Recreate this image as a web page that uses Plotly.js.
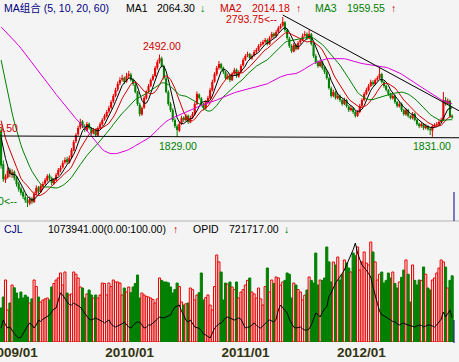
<!DOCTYPE html>
<html><head><meta charset="utf-8">
<script src="https://cdn.plot.ly/plotly-3.0.1.min.js"></script>
<style>html,body{margin:0;padding:0;background:#f4f4f4;}#chart{width:459px;height:362px;}</style>
</head><body><div id="chart"></div>
<script>
// ---- data (weekly bars) ----
const histClose = [2580,2600,2620,2590,2640,2660,2630,2680,2650,2700,2660,2690,2720,
2750,2780,2800,2770,2820,2850,2830,2880,2900,2870,2920,2950,2930,2980,
3000,2960,2990,3020,2980,2950,2990,3010,2970,
3050,3120,3180,3230,3260,3300,3250,3200,3150,
2950,2780,2620,2480,2350,2260,2150,
2080,2020,1980,1940,1900,1860,1820];

const open = [1880,1610,1485,1505,1565,1525,1550,1505,1455,1415,
1385,1345,1320,1295,1335,1305,1375,1425,1385,1430,
1455,1480,1520,1500,1455,1480,1525,1560,1585,1625,
1650,1625,1665,1720,1795,1850,1905,1955,1915,1880,
1935,1900,1855,1890,1840,1905,1930,1970,1995,2035,
2065,2115,2160,2210,2260,2290,2305,2275,2320,2330,
2290,2250,2190,2090,2010,2065,2140,2195,2240,2290,
2320,2385,2435,2460,2395,2300,2190,2095,2045,1965,
1915,1880,1935,1985,1965,2000,1945,1985,2015,2095,
2170,2140,2095,2060,2115,2140,2205,2275,2335,2385,
2415,2385,2350,2300,2320,2285,2340,2370,2315,2355,
2405,2450,2485,2495,2460,2485,2515,2530,2565,2575,
2595,2610,2575,2630,2660,2640,2675,2705,2725,2750,
2690,2620,2560,2515,2570,2535,2590,2610,2645,2655,
2620,2655,2575,2480,2430,2400,2430,2385,2350,2300,
2220,2160,2190,2140,2160,2125,2095,2125,2075,2045,
2060,2030,2000,2030,2080,2125,2175,2205,2240,2270,
2255,2290,2305,2335,2270,2240,2205,2175,2140,2160,
2110,2075,2095,2045,2010,2045,1995,1980,2015,1965,
1935,1915,1935,1900,1915,1895,1880,1915,1925,1930,
1950,1965,2125,2095,2120,1995];

const high = [1898.5,1640,1530,1585,1580,1570,1560,1515,1470,1430,
1400,1370,1345,1350,1345,1390,1440,1435,1450,1470,
1500,1530,1535,1510,1500,1540,1580,1600,1640,1665,
1670,1680,1740,1805,1860,1920,1975,1965,1930,1950,
1945,1910,1900,1895,1915,1950,1980,2015,2045,2080,
2125,2175,2225,2275,2310,2330,2315,2345,2360,2345,
2300,2265,2200,2105,2075,2160,2205,2255,2300,2335,
2400,2450,2492,2475,2410,2315,2205,2110,2060,1980,
1930,1950,2000,1995,2015,2010,2000,2030,2110,2195,
2180,2150,2105,2125,2160,2225,2290,2350,2400,2440,
2425,2395,2360,2340,2330,2350,2385,2380,2365,2415,
2465,2495,2515,2505,2495,2530,2545,2575,2595,2610,
2625,2620,2640,2675,2670,2690,2720,2740,2793.75,2760,
2700,2635,2575,2585,2580,2600,2625,2660,2680,2670,
2689,2665,2590,2495,2445,2450,2440,2395,2365,2310,
2235,2210,2200,2180,2170,2135,2145,2135,2085,2080,
2070,2040,2045,2095,2140,2190,2225,2255,2290,2285,
2300,2320,2384,2345,2280,2250,2215,2185,2175,2170,
2120,2110,2105,2055,2060,2055,2005,2030,2025,1975,
1945,1950,1940,1935,1925,1905,1925,1940,1950,1965,
1985,2191,2150,2140,2130,2010];

const low = [1575,1470,1460,1495,1505,1500,1480,1430,1390,1360,
1330,1300,1266,1280,1290,1300,1360,1370,1380,1410,
1440,1470,1480,1440,1445,1475,1515,1545,1575,1610,
1610,1615,1655,1715,1780,1840,1890,1900,1870,1875,
1890,1840,1850,1830,1835,1895,1920,1960,1985,2020,
2055,2100,2150,2195,2245,2275,2255,2265,2300,2275,
2240,2180,2080,1995,2000,2055,2130,2185,2230,2280,
2310,2370,2420,2390,2290,2180,2080,2030,1950,1900,
1829,1870,1925,1950,1955,1935,1940,1975,2005,2085,
2130,2080,2045,2050,2100,2130,2195,2265,2320,2370,
2370,2335,2290,2290,2270,2280,2330,2305,2305,2345,
2395,2440,2470,2450,2450,2475,2500,2520,2550,2565,
2580,2565,2570,2615,2625,2630,2665,2695,2715,2675,
2610,2545,2505,2510,2525,2530,2575,2600,2635,2610,
2615,2565,2465,2415,2385,2390,2370,2335,2290,2210,
2145,2150,2130,2130,2110,2080,2085,2065,2030,2035,
2015,1985,1990,2020,2070,2115,2165,2195,2230,2240,
2245,2280,2295,2260,2225,2195,2160,2130,2130,2095,
2065,2065,2030,2000,2000,1985,1970,1970,1955,1920,
1900,1905,1885,1890,1880,1845,1831,1905,1915,1920,
1940,1960,2080,2085,1985,1975];

const close = [1600,1490,1510,1560,1530,1545,1500,1450,1410,1380,
1350,1320,1300,1330,1310,1370,1420,1390,1435,1451,
1483,1515,1499,1459,1483,1523,1564,1580,1620,1644,
1628,1660,1724,1789,1845,1901,1950,1917,1885,1933,
1901,1861,1885,1845,1901,1933,1966,1998,2030,2062,
2110,2159,2207,2255,2287,2303,2271,2319,2335,2287,
2255,2191,2094,2014,2062,2143,2191,2239,2287,2319,
2384,2432,2464,2400,2303,2191,2094,2046,1966,1917,
1885,1933,1982,1966,1998,1950,1982,2014,2094,2175,
2143,2094,2062,2110,2143,2207,2271,2335,2384,2416,
2384,2351,2303,2319,2287,2335,2368,2319,2351,2400,
2448,2480,2496,2464,2480,2512,2528,2561,2577,2593,
2609,2577,2625,2657,2641,2673,2705,2721,2754,2689,
2625,2561,2520,2569,2537,2585,2609,2641,2657,2625,
2657,2577,2480,2432,2400,2432,2384,2351,2303,2223,
2159,2191,2143,2159,2126,2094,2126,2078,2046,2062,
2030,1998,2030,2078,2126,2175,2207,2239,2271,2255,
2287,2303,2335,2271,2239,2207,2175,2143,2159,2110,
2078,2094,2046,2014,2046,1998,1982,2014,1966,1933,
1917,1933,1901,1917,1893,1885,1917,1925,1933,1950,
1966,2126,2094,2120,1995,1985];

const volume = [552000,730000,1006000,519000,633000,925000,880000,795000,700000,811000,
714000,760000,730000,633000,700000,1006000,900000,730000,649000,682000,
700000,714000,682000,893000,950000,1006000,1040000,1120000,925000,1136000,
795000,763000,780000,1136000,1100000,1039000,893000,876000,714000,780000,
844000,763000,714000,763000,714000,763000,957000,950000,763000,957000,
900000,1006000,974000,974000,957000,763000,876000,811000,893000,800000,
893000,950000,1087000,714000,795000,763000,740000,730000,714000,690000,
633000,700000,1039000,1000000,974000,974000,960000,893000,795000,850000,
957000,900000,649000,600000,620000,633000,876000,850000,682000,763000,
800000,1120000,682000,720000,763000,600000,519000,900000,1412000,1300000,
1136000,682000,957000,940000,974000,893000,850000,974000,714000,811000,
850000,925000,1000000,1039000,811000,780000,714000,876000,700000,600000,
900000,1201000,811000,1006000,950000,1055000,1040000,925000,974000,1000000,
1120000,1100000,714000,957000,925000,850000,811000,682000,760000,844000,
1055000,1000000,957000,1444000,925000,1006000,1000000,1039000,1542000,1300000,
974000,1298000,1250000,1379000,1006000,1100000,1331000,1282000,1200000,1136000,
1444000,1400000,1542000,1168000,1300000,1461000,1282000,1250000,1623000,1461000,
1300000,1006000,1100000,1136000,957000,1000000,1120000,1039000,1136000,950000,
876000,974000,1050000,1168000,1331000,1100000,649000,1250000,1000000,925000,
1006000,1000000,1217000,1100000,876000,844000,1006000,1039000,1120000,1200000,
1331000,1300000,1217000,876000,1000000,1073941];

const opid = [545000,686000,600000,545000,563000,500000,450000,400000,370000,380000,
450000,510000,580000,633000,600000,545000,600000,686000,660000,700000,
721000,739000,774000,830000,880000,896000,1050000,1160000,1125000,1060000,
1002000,960000,949000,984000,960000,930000,914000,860000,809000,750000,
700000,686000,710000,721000,700000,686000,660000,633000,660000,686000,
620000,580000,563000,580000,598000,620000,651000,600000,560000,545000,
600000,633000,651000,651000,600000,545000,560000,598000,598000,630000,
651000,700000,739000,730000,721000,740000,760000,774000,850000,914000,
930000,949000,840000,774000,680000,651000,686000,620000,563000,550000,
545000,500000,440000,423000,390000,370000,450000,545000,580000,620000,
633000,680000,721000,739000,721000,700000,686000,700000,721000,700000,
620000,545000,560000,563000,600000,633000,600000,560000,545000,590000,
633000,660000,686000,670000,651000,700000,861000,949000,896000,850000,
809000,700000,620000,560000,545000,550000,563000,530000,510000,510000,
530000,600000,700000,809000,780000,739000,820000,880000,914000,1100000,
1160000,1250000,1335000,1390000,1440000,1500000,1563000,1650000,1750000,1820000,
1920000,2037000,1861000,1750000,1651000,1600000,1563000,1500000,1440000,1265000,
1100000,980000,840000,774000,760000,739000,710000,686000,660000,651000,
620000,598000,620000,633000,610000,598000,598000,580000,563000,580000,
598000,590000,563000,580000,598000,598000,580000,563000,600000,651000,
700000,826000,739000,800000,861000,721717];

const tickPos  = [5.6, 58.4, 111.1, 163.7];
const tickText = ['2009/01','2010/01','2011/01','2012/01'];

const maPeriods = [5, 10, 20, 60];
const maValueText = ['2064.30', '2014.18', '1959.55'];

// drawn trend lines (bar index, price)
const resistX = [128, 208.1], resistY = [2810, 2040];
const supportX = [-0.5, 208.1], supportY = [1837, 1823];

// ---- styles ----
const BG = '#f4f4f4', RED = '#e60000', GREEN = '#008000', TXTRED = '#d00000';
const maColors = ['#000000', '#d00000', '#008000', '#dd00dd'];
const FONT = 'Liberation Sans, Arial, Noto Sans CJK SC, sans-serif';
const W = 459, H = 362;

const N = close.length;
const idx = close.map((_, i) => i);
const up = close.map((c, i) => c >= open[i]);

function wicks(isUp) {
  const xs = [], ys = [];
  for (let i = 0; i < N; i++) if (up[i] === isUp) { xs.push(i, i, null); ys.push(low[i], high[i], null); }
  return {type:'scatter', mode:'lines', x:xs, y:ys, xaxis:'x', yaxis:'y',
          line:{color:isUp ? RED : GREEN, width:1}, hoverinfo:'skip'};
}

const bodies = {
  type:'bar', x:idx, xaxis:'x', yaxis:'y',
  base: idx.map(i => Math.min(open[i], close[i])),
  y: idx.map(i => Math.max(Math.abs(close[i] - open[i]), 6)),
  width: 0.95,
  marker:{color: up.map(u => u ? RED : GREEN), line:{width:0}}
};

const allClose = histClose.concat(close);
const H0 = histClose.length;
const maTraces = maPeriods.map((p, k) => {
  const ys = idx.map(i => {
    const j = i + H0; let s = 0;
    for (let t = j - p + 1; t <= j; t++) s += allClose[t];
    return s / p;
  });
  return {type:'scatter', mode:'lines', x:idx, y:ys, xaxis:'x', yaxis:'y',
          line:{color:maColors[k], width:1}, hoverinfo:'skip'};
});

const volBars = {
  type:'bar', x:idx, y:volume, xaxis:'x', yaxis:'y2', width:0.95,
  marker:{color: up.map(u => u ? '#fbe6e6' : GREEN),
          line:{color: up.map(u => u ? RED : GREEN), width:1}}
};
const opidLine = {type:'scatter', mode:'lines', x:idx, y:opid, xaxis:'x', yaxis:'y3',
  line:{color:'#000000', width:1}, hoverinfo:'skip'};

const resist = {type:'scatter', mode:'lines', x:resistX, y:resistY, xaxis:'x', yaxis:'y',
  line:{color:'#000000', width:1}, hoverinfo:'skip'};
const support = {type:'scatter', mode:'lines', x:supportX, y:supportY, xaxis:'x', yaxis:'y',
  line:{color:'#000000', width:1}, hoverinfo:'skip'};

const px = x => x / W, py = y => 1 - y / H;
function hdr(text, x, y, color) {
  return {xref:'paper', yref:'paper', x:px(x), y:py(y), xanchor:'left', yanchor:'middle',
          text:text, showarrow:false, font:{family:FONT, size:10.5, color:color}};
}
function priceLbl(text, i, p, color, xa, ya, xs, ys) {
  return {xref:'x', yref:'y', x:i, y:p, xanchor:xa, yanchor:ya, xshift:xs, yshift:ys,
          text:text, showarrow:false, font:{family:FONT, size:10.5, color:color}};
}

const iMax = high.indexOf(Math.max(...high));
const iMin = low.indexOf(Math.min(...low));

const annotations = [
  hdr('MA组合 (5, 10, 20, 60)', 2, 8, '#000080'),
  hdr('MA1', 124, 8, '#000000'), hdr(maValueText[0], 155, 8, '#000000'), hdr('↓', 198, 8, GREEN),
  hdr('MA2', 218, 8, TXTRED), hdr(maValueText[1], 250, 8, TXTRED), hdr('↑', 294, 8, TXTRED),
  hdr('MA3', 313, 8, GREEN), hdr(maValueText[2], 345, 8, GREEN), hdr('↑', 389, 8, TXTRED),
  hdr('CJL', 2, 229, '#000080'),
  hdr(volume[N-1].toFixed(2) + '(0.00:100.00)', 46, 229, '#000000'), hdr('↑', 171, 229, TXTRED),
  hdr('OPID', 191, 229, '#000000'), hdr(opid[N-1].toFixed(2), 227, 229, '#000000'), hdr('↓', 282, 229, GREEN),
  priceLbl(high[iMax].toFixed(2) + '<--', iMax, high[iMax], TXTRED, 'right', 'middle', -3, -2),
  priceLbl(high[72].toFixed(2), 72, high[72], TXTRED, 'center', 'bottom', 2, 1),
  priceLbl(low[80].toFixed(2), 80, low[80], GREEN, 'center', 'top', 1, -1),
  priceLbl(low[196].toFixed(2), 196, low[196], GREEN, 'center', 'top', 0, -1),
  priceLbl(high[0].toFixed(2), 0, high[0], TXTRED, 'right', 'middle', 19, 0),
  priceLbl(low[iMin].toFixed(2) + '<--', iMin, low[iMin], GREEN, 'right', 'middle', -8, 6)
];

const shapes = [
  {type:'line', xref:'paper', yref:'paper', x0:0, x1:1, y0:py(221), y1:py(221), line:{color:'#b4b4b4', width:1}},
  {type:'line', xref:'paper', yref:'paper', x0:px(454), x1:px(454), y0:py(192), y1:py(221), line:{color:'#000080', width:1}},
  {type:'line', xref:'paper', yref:'paper', x0:px(454), x1:px(454), y0:py(320), y1:py(343), line:{color:'#000080', width:1}}
];

const layout = {
  width:W, height:H, margin:{l:0, r:0, t:0, b:0},
  paper_bgcolor:BG, plot_bgcolor:BG, showlegend:false, barmode:'overlay', hovermode:false,
  xaxis:{domain:[0,1], range:[-0.5, 208.1], anchor:'y2', tickvals:tickPos, ticktext:tickText,
         ticks:'', showgrid:false, zeroline:false, showline:false, ticklabeloverflow:'allow',
         tickfont:{family:FONT, size:13.5, color:'#333311', weight:'bold'}},
  yaxis:{domain:[1 - 218/H, 1], range:[1177.8, 2930.5], visible:false},
  yaxis2:{domain:[20/H, 134/H], range:[0, 1850000], visible:false},
  yaxis3:{overlaying:'y2', range:[300000, 2300000], visible:false},
  annotations:annotations, shapes:shapes
};

const traces = [wicks(true), wicks(false), bodies, ...maTraces, support, resist, volBars, opidLine];
Plotly.newPlot('chart', traces, layout, {staticPlot:true, displayModeBar:false});
</script>
</body></html>
